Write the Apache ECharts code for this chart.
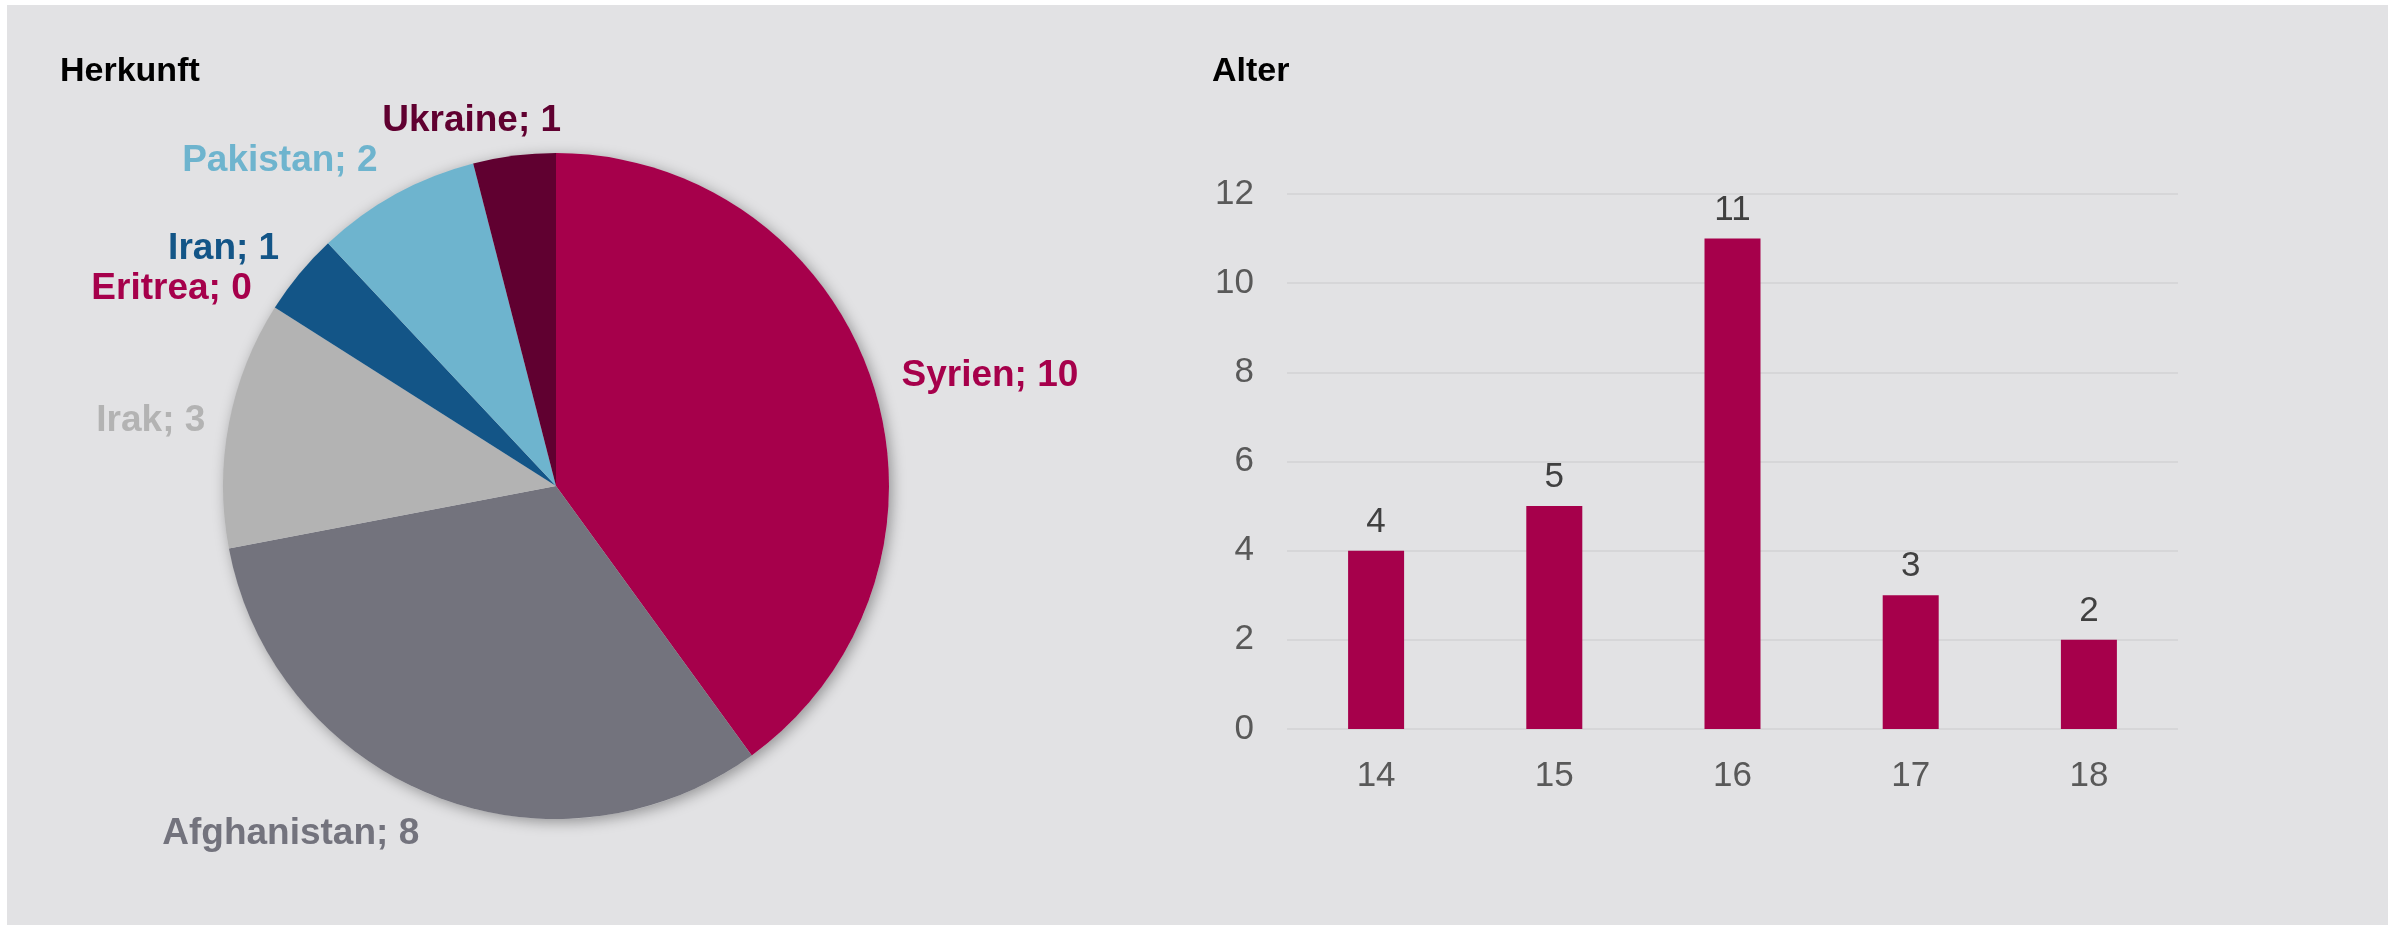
<!DOCTYPE html>
<html>
<head>
<meta charset="utf-8">
<script src="https://cdn.jsdelivr.net/npm/echarts@6/dist/echarts.min.js"></script>
<style>
  html, body { margin: 0; padding: 0; background: #ffffff; }
  #panel { position: absolute; left: 7px; top: 5px; width: 2381px; height: 920px; background: #E2E2E4; }
  #chart { position: absolute; left: 0; top: 0; width: 2399px; height: 925px; }
</style>
</head>
<body>
<div id="panel"></div>
<div id="chart"></div>
<script>
// ---- data ----
const originNames = ['Syrien', 'Afghanistan', 'Irak', 'Eritrea', 'Iran', 'Pakistan', 'Ukraine'];
const originValues = [10, 8, 3, 0, 1, 2, 1];
const ageCategories = ['14', '15', '16', '17', '18'];
const ageValues = [4, 5, 11, 3, 2];
const titles = ['Herkunft', 'Alter'];

// ---- styles ----
const originColors = ['#A6004B', '#73737D', '#B3B3B3', '#A6004B', '#135587', '#6EB4CE', '#600030'];
const labelNudge = { 1: [0, 15], 2: [6, 2], 3: [3, -5], 4: [4, -9], 5: [-1, -11], 6: [55, -10] };
const FONT = '"Liberation Sans", Arial, sans-serif';

const chart = echarts.init(document.getElementById('chart'), null, { renderer: 'canvas' });

const pieData = originNames.map((n, i) => ({
  name: n,
  value: originValues[i],
  itemStyle: { color: originColors[i] },
  label: { color: originColors[i] }
}));

chart.setOption({
  animation: false,
  backgroundColor: 'transparent',
  textStyle: { fontFamily: FONT },
  title: [
    { text: titles[0], left: 60, top: 55, padding: 0,
      textStyle: { fontSize: 34, fontWeight: 'bold', color: '#000', fontFamily: FONT } },
    { text: titles[1], left: 1212, top: 55, padding: 0,
      textStyle: { fontSize: 34, fontWeight: 'bold', color: '#000', fontFamily: FONT } }
  ],
  grid: { left: 1287, right: 221, top: 194, bottom: 196, containLabel: false },
  xAxis: {
    type: 'category',
    data: ageCategories,
    axisLine: { show: false },
    axisTick: { show: false },
    axisLabel: { fontSize: 35, color: '#595959', margin: 30, fontFamily: FONT }
  },
  yAxis: {
    type: 'value',
    min: 0, max: 12, interval: 2,
    axisLine: { show: false },
    axisTick: { show: false },
    axisLabel: { fontSize: 35, color: '#595959', margin: 33, fontFamily: FONT },
    splitLine: { lineStyle: { color: '#D6D6D8', width: 2 } }
  },
  series: [
    {
      type: 'pie',
      silent: true,
      z: 1,
      center: [556, 486],
      radius: 333,
      data: [{ value: 1 }],
      label: { show: false },
      labelLine: { show: false },
      itemStyle: { color: '#D0D0D2', shadowBlur: 14, shadowColor: 'rgba(0,0,0,0.35)', shadowOffsetX: 3, shadowOffsetY: 3 }
    },
    {
      type: 'pie',
      z: 2,
      center: [556, 486],
      radius: 333,
      startAngle: 90,
      clockwise: true,
      avoidLabelOverlap: false,
      stillShowZeroSum: true,
      data: pieData,
      itemStyle: { borderWidth: 0 },
      label: {
        show: true,
        position: 'outside',
        formatter: '{b}; {c}',
        fontSize: 37,
        fontWeight: 'bold',
        fontFamily: FONT
      },
      labelLine: { show: false, length: 25, length2: 0 },
      labelLayout: function (params) {
        const n = labelNudge[params.dataIndex];
        return n ? { dx: n[0], dy: n[1] } : {};
      }
    },
    {
      type: 'bar',
      data: ageValues,
      barWidth: 56,
      itemStyle: { color: '#A6004B' },
      label: {
        show: true,
        position: 'top',
        distance: 11,
        fontSize: 35,
        color: '#404040',
        fontFamily: FONT
      }
    }
  ]
});
</script>
</body>
</html>
